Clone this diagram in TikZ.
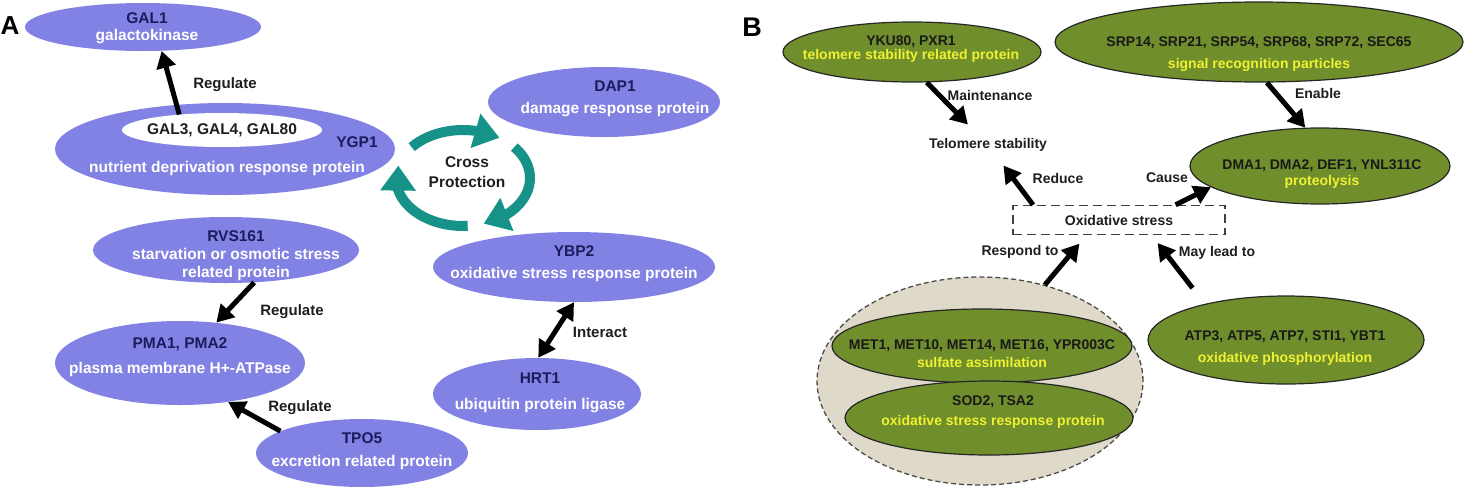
\documentclass[tikz,border=0pt]{standalone}
\usepackage{fontspec}
\setmainfont{Liberation Sans}
\usetikzlibrary{shapes.geometric,arrows.meta,bending}
\definecolor{lavA}{RGB}{130,130,228}
\definecolor{navyA}{RGB}{28,28,92}
\definecolor{tealA}{RGB}{22,146,136}
\definecolor{oliveB}{RGB}{112,142,44}
\definecolor{yellB}{RGB}{238,242,48}
\definecolor{beigeB}{RGB}{222,217,200}
\definecolor{inkC}{RGB}{30,30,30}
\begin{document}
\begin{tikzpicture}[x=1pt,y=-1pt,
  bubA/.style 2 args={ellipse,fill=lavA,inner sep=0pt,minimum width=#1,minimum height=#2},
  bubB/.style 2 args={ellipse,draw=black!85,line width=1.2pt,fill=oliveB,inner sep=0pt,minimum width=#1,minimum height=#2},
  txtA/.style={align=center,inner sep=0pt,font=\bfseries\fontsize{15.5}{17}\selectfont},
  txtB/.style={align=center,inner sep=0pt,font=\bfseries\fontsize{14}{15.5}\selectfont},
  lblA/.style={inner sep=0pt,text=inkC,font=\bfseries\fontsize{15}{17}\selectfont},
  lblB/.style={inner sep=0pt,text=inkC,font=\bfseries\fontsize{14}{16}\selectfont},
  arr/.style={line width=5pt,black,-{Triangle[length=17pt,width=19pt]}},
  darr/.style={line width=5pt,black,{Triangle[length=17pt,width=19pt]}-{Triangle[length=17pt,width=19pt]}},
  cparr/.style={line width=10pt,tealA,-{Triangle[length=25pt,width=34pt]}}]
\useasboundingbox (0,0) rectangle (1467,488);
\node[lblA,text=black,font=\bfseries\fontsize{26}{28}\selectfont] (pa) at (10,26) {A};
\node[bubA={236pt}{48pt}] (gal1) at (143,27) {};
\node[txtA] (gal1t) at (147,28.5) {{\color{navyA}GAL1}\\{\color{white}galactokinase}};
\node[bubA={340pt}{92pt}] (ygp1) at (225,149) {};
\node[ellipse,fill=white,inner sep=0pt,minimum width=200pt,minimum height=34pt] (gal3) at (222,130) {};
\node[txtA,text=inkC] (gal3t) at (222,130) {GAL3, GAL4, GAL80};
\node[txtA,text=navyA] (ygp1l) at (357,142) {YGP1};
\node[txtA,text=white] (ygp1t) at (227,168) {nutrient deprivation response protein};
\node[bubA={232pt}{70pt}] (dap1) at (604,102) {};
\node[txtA] (dap1t) at (615,99) {{\color{navyA}DAP1}\\[5pt]{\color{white}damage response protein}};
\node[bubA={266pt}{66pt}] (rvs) at (226,250) {};
\node[txtA] (rvst) at (236,256) {{\color{navyA}RVS161}\\[1pt]{\color{white}starvation or osmotic stress}\\[1pt]{\color{white}related protein}};
\node[bubA={250pt}{84pt}] (pma) at (180,363) {};
\node[txtA] (pmat) at (180,357.5) {{\color{navyA}PMA1, PMA2}\\[8pt]{\color{white}plasma membrane H+-ATPase}};
\node[bubA={212pt}{68pt}] (tpo5) at (362,453) {};
\node[txtA] (tpo5t) at (362,451.5) {{\color{navyA}TPO5}\\[6pt]{\color{white}excretion related protein}};
\node[bubA={282pt}{70pt}] (ybp2) at (574,267) {};
\node[txtA] (ybp2t) at (574,264) {{\color{navyA}YBP2}\\[5pt]{\color{white}oxidative stress response protein}};
\node[bubA={208pt}{72pt}] (hrt1) at (537,394) {};
\node[txtA] (hrt1t) at (540,393) {{\color{navyA}HRT1}\\[9pt]{\color{white}ubiquitin protein ligase}};
\coordinate (cp) at (463,178);
\draw[cparr] ([shift={(-140:67 and 48)}]cp) arc[start angle=-140,end angle=-57,x radius=67,y radius=48];
\draw[cparr] ([shift={(-40:67 and 48)}]cp) arc[start angle=-40,end angle=72,x radius=67,y radius=48];
\draw[cparr] ([shift={(86:67 and 48)}]cp) arc[start angle=86,end angle=195,x radius=67,y radius=48];
\node[lblA,align=center,font=\bfseries\fontsize{15.5}{17}\selectfont] (cpt) at (467,172) {Cross\\[3pt]Protection};
\draw[arr] (gal3.160) -- (gal1.-52);
\node[lblA] (reg1) at (225,85) {Regulate};
\draw[arr] (rvs.-49) -- (pma.48);
\node[lblA] (reg2) at (292,312) {Regulate};
\draw[arr] (tpo5.165) -- (pma.-39);
\node[lblA] (reg3) at (300,408) {Regulate};
\draw[darr] (ybp2.-90) -- (hrt1.88);
\node[lblA] (inter) at (600,332) {Interact};
\node[lblB,text=black,font=\bfseries\fontsize{27}{29}\selectfont] (pb) at (752,27) {B};
\node[bubB={258pt}{60pt}] (yku) at (912,52) {};
\node[txtB] (ykut) at (911,49) {{\color{black!90}YKU80, PXR1}\\[-1.5pt]{\color{yellB}telomere stability related protein}};
\node[bubB={408pt}{80pt}] (srp) at (1259,42) {};
\node[txtB] (srpt) at (1259,54) {{\color{black!90}SRP14, SRP21, SRP54, SRP68, SRP72, SEC65}\\[6.5pt]{\color{yellB}signal recognition particles}};
\node[bubB={260pt}{76pt}] (dma) at (1320,166) {};
\node[txtB] (dmat) at (1322,174) {{\color{black!90}DMA1, DMA2, DEF1, YNL311C}\\[0.5pt]{\color{yellB}proteolysis}};
\node[lblB,outer sep=14pt] (telo) at (988,145) {Telomere stability};
\node[lblB,draw=black!75,line width=1.3pt,dash pattern=on 9pt off 5pt,fill=white,minimum width=212pt,minimum height=29pt] (ox) at (1119,220) {Oxidative stress};
\node[ellipse,draw=black!70,line width=1.3pt,dash pattern=on 5pt off 3pt,fill=beigeB,inner sep=0pt,minimum width=326pt,minimum height=208pt] (grp) at (980,381) {};
\node[bubB={300pt}{74pt}] (met) at (982,346) {};
\node[txtB] (mett) at (982,354) {{\color{black!90}MET1, MET10, MET14, MET16, YPR003C}\\[2.5pt]{\color{yellB}sulfate assimilation}};
\node[bubB={288pt}{74pt}] (sod) at (989,418) {};
\node[txtB] (sodt) at (993,412) {{\color{black!90}SOD2, TSA2}\\[4.5pt]{\color{yellB}oxidative stress response protein}};
\node[bubB={276pt}{88pt}] (atp) at (1286,340) {};
\node[txtB] (atpt) at (1285,348) {{\color{black!90}ATP3, ATP5, ATP7, STI1, YBT1}\\[6.5pt]{\color{yellB}oxidative phosphorylation}};
\draw[arr] (yku.-64) -- (telo);
\node[lblB] (maint) at (990,95) {Maintenance};
\draw[arr] (srp.-79) -- (dma.111);
\node[lblB] (enab) at (1318,93) {Enable};
\draw[arr] (ox.170) -- (telo);
\node[lblB] (redu) at (1058,178) {Reduce};
\draw[arr] (ox.15) -- (dma.191);
\node[lblB] (caus) at (1167,178) {Cause};
\draw[arr,shorten >=11pt] (grp.56) -- (ox.-155);
\node[lblB] (resp) at (1020,252) {Respond to};
\draw[arr,shorten <=20pt,shorten >=10pt] (atp.156) -- (ox.-25);
\node[lblB] (mayl) at (1217,253) {May lead to};
\end{tikzpicture}
\end{document}
